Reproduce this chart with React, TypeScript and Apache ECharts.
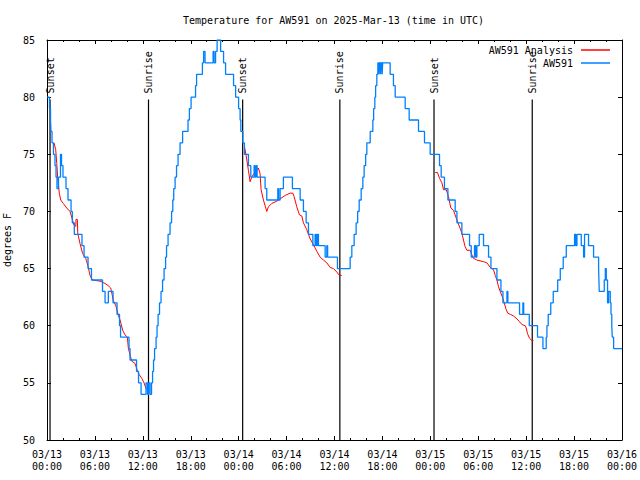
import React, { useEffect, useRef } from "react";
import * as echarts from "echarts";

// Hours since 2025-03-13 00:00 UTC
const blueHours = [
  0.0, 0.31, 0.44, 0.5, 0.63, 0.81, 1.0, 1.13, 1.25, 1.44, 1.69, 1.82, 2.0, 2.38, 2.63, 3.01, 3.17, 3.42,
  4.38, 4.64, 5.14, 5.57, 6.95, 7.27, 7.68, 8.27, 8.77, 9.08, 9.21, 10.27, 10.4, 11.21, 11.46, 11.78,
  12.4, 12.59, 12.72, 12.9, 13.09, 13.22, 13.34, 13.47, 13.66, 13.78, 13.91, 14.09, 14.28, 14.47, 14.66,
  14.85, 14.97, 15.16, 15.41, 15.6, 15.75, 15.87, 16.04, 16.22, 16.41, 16.66, 16.98, 17.66, 17.83, 18.04,
  18.6, 18.73, 19.46, 19.61, 19.79, 20.8, 20.92, 21.11, 21.3, 21.74, 22.11, 22.36, 23.36, 23.62, 23.99,
  24.18, 24.27, 24.52, 24.72, 25.22, 25.52, 25.93, 26.06, 26.18, 26.31, 27.31, 27.52, 28.9, 29.0, 29.19,
  29.6, 30.73, 31.7, 32.11, 32.45, 32.74, 33.29, 33.57, 33.7, 33.83, 33.99, 34.83, 35.04, 35.14, 36.37,
  37.96, 38.17, 38.46, 38.71, 38.9, 39.09, 39.34, 39.55, 39.71, 39.9, 40.05, 40.47, 40.8, 40.9, 41.05,
  41.15, 41.3, 41.43, 41.59, 41.66, 41.78, 41.84, 41.97, 42.03, 42.97, 43.38, 43.6, 44.85, 45.35, 46.52,
  47.27, 47.98, 49.15, 49.36, 49.77, 50.2, 51.11, 51.33, 51.95, 52.91, 53.12, 53.53, 53.68, 53.83, 54.12,
  54.66, 55.29, 55.59, 56.34, 56.84, 57.09, 57.59, 57.71, 59.17, 59.59, 59.69, 60.39, 61.42, 62.1, 62.51,
  62.6, 62.76, 63.08, 63.39, 63.95, 64.27, 64.64, 65.02, 66.06, 66.21, 66.36, 66.9, 67.19, 67.31, 67.81,
  68.44, 69.07, 69.15, 69.78, 69.91, 70.03, 70.19, 70.32, 70.53, 70.62, 70.72, 70.78, 70.95, 72.0,
];
const blueTemps = [
  80, 79, 78, 77, 76, 75, 74, 73, 72, 73, 75, 74, 73, 72, 71, 70, 69, 68,
  67, 66, 65, 64, 63, 62, 63, 62, 61, 60, 59, 58, 57, 56, 55, 54,
  55, 54, 55, 54, 55, 56, 57, 58, 59, 60, 61, 62, 63, 64, 65,
  66, 67, 68, 69, 70, 71, 72, 73, 74, 75, 76, 77, 78, 79, 80,
  81, 82, 83, 84, 83, 84, 83, 84, 85, 84, 83, 82, 81, 80, 79,
  78, 77, 76, 75, 74, 73, 74, 73, 74, 73, 72, 71, 72, 71, 72,
  73, 72, 71, 70, 69, 68, 67, 68, 67, 68, 67, 66, 67, 66, 65,
  66, 67, 68, 69, 70, 71, 72, 73, 74, 75, 76, 77, 78, 79, 80,
  81, 82, 83, 82, 83, 82, 83, 82, 83, 82, 81, 80, 79, 78, 77,
  76, 75, 74, 73, 72, 71, 70, 69, 68, 67, 66, 67, 66, 67, 68,
  67, 66, 65, 64, 63, 62, 63, 62, 61, 62, 61, 60, 59, 58, 59,
  60, 61, 62, 63, 64, 65, 66, 67, 68, 67, 68, 67, 66, 68, 67,
  66, 65, 63, 64, 65, 64, 62, 63, 62, 61, 60, 59, 58, 58,
];

// Analysis (red), null separates the three nights
const redHours = [
  0.88, 1.09, 1.22, 1.34, 1.54, 1.72, 2.04, 2.47, 2.88, 3.09, 3.38, 3.61, 3.63, 3.8, 3.85, 4.13, 4.47,
  4.85, 5.14, 5.39, 5.68, 6.64, 7.27, 7.68, 7.98, 8.31, 8.64, 8.93, 9.15, 9.48, 9.77, 10.06, 10.19,
  10.61, 11.02, 11.31, 11.56, 11.86, 12.15, 12.4, 12.57, 12.74,
  18.0,
  24.72, 24.93, 25.22, 25.43, 25.64, 25.81, 26.27, 26.47, 26.68, 26.81, 27.1, 27.52, 27.72, 28.15,
  28.78, 29.19, 29.82, 30.44, 30.78, 30.94, 31.28, 31.61, 31.91, 32.11, 32.53, 32.95, 33.36, 33.79,
  34.2, 34.61, 35.04, 35.45, 35.87, 36.29, 36.62, 36.92,
  42.0,
  48.61, 48.9, 49.15, 49.45, 49.65, 49.99, 50.27, 50.57, 50.9, 51.33, 51.74, 51.95, 52.15, 52.36,
  52.58, 52.99, 53.2, 53.4, 53.83, 54.66, 55.09, 55.5, 55.91, 56.13, 56.34, 56.54, 56.75, 57.09,
  57.25, 57.5, 57.71, 58.0, 58.42, 58.84, 59.17, 59.47, 59.88, 60.01, 60.17, 60.42, 60.72, 60.92,
];
const redTemps: (number | null)[] = [
  76.0, 75.4, 74.2, 73.0, 71.6, 71.0, 70.7, 70.3, 70.0, 69.5, 68.8, 68.7, 69.3, 69.3, 68.1, 67.2, 66.3,
  65.9, 65.2, 64.4, 64.0, 63.9, 63.7, 63.5, 63.3, 62.2, 61.7, 60.9, 60.5, 59.6, 59.2, 59.0, 58.0,
  56.9, 56.7, 56.1, 55.7, 55.4, 55.0, 54.5, 54.4, 54.6,
  null,
  75.7, 74.9, 73.6, 72.6, 73.0, 73.2, 73.6, 73.8, 73.3, 71.9, 71.0, 70.0, 70.4, 70.7,
  70.9, 71.1, 71.4, 71.6, 71.6, 71.3, 70.4, 69.7, 69.6, 69.0, 68.4, 67.6, 67.1, 66.5,
  66.0, 65.75, 65.5, 65.1, 65.0, 64.7, 64.4, 64.4,
  null,
  73.4, 73.4, 72.9, 72.5, 71.9, 71.9, 71.3, 70.3, 70.1, 69.25, 68.5, 68.1, 67.5, 66.9,
  66.6, 66.6, 66.2, 65.9, 65.75, 65.6, 65.5, 65.1, 64.9, 64.4, 64.0, 63.4, 63.0, 62.4,
  62.0, 61.4, 61.1, 61.0, 60.85, 60.6, 60.35, 60.1, 60.0, 59.8, 59.3, 58.9, 58.7, 58.7,
];

const sunHours = [0.38, 12.71, 24.5, 36.67, 48.46, 60.76];
const sunLabels = ["Sunset", "Sunrise", "Sunset", "Sunrise", "Sunset", "Sunrise"];
const sunLineTop = 79.8;

const xTickLabels = [
  "03/13\n00:00", "03/13\n06:00", "03/13\n12:00", "03/13\n18:00",
  "03/14\n00:00", "03/14\n06:00", "03/14\n12:00", "03/14\n18:00",
  "03/15\n00:00", "03/15\n06:00", "03/15\n12:00", "03/15\n18:00",
  "03/16\n00:00",
];

const FONT = "DejaVu Sans Mono";

export default function App() {
  const ref = useRef<HTMLDivElement>(null);
  useEffect(() => {
    if (!ref.current) return;
    const chart = echarts.init(ref.current, undefined, { renderer: "svg" });

    const xCommon = {
      type: "value",
      min: 0,
      max: 72,
      interval: 6,
      splitLine: { show: false },
      axisLine: { show: true, onZero: false, lineStyle: { color: "#000", width: 1 } },
      axisTick: { show: true, inside: true, length: 4, lineStyle: { color: "#000" } },
      minorTick: { show: true, splitNumber: 3, length: 2, lineStyle: { color: "#000" } },
    };
    const yCommon = {
      type: "value",
      min: 50,
      max: 85,
      interval: 5,
      splitLine: { show: false },
      axisLine: { show: true, onZero: false, lineStyle: { color: "#000", width: 1 } },
      axisTick: { show: true, inside: true, length: 4, lineStyle: { color: "#000" } },
    };

    chart.setOption({
      animation: false,
      backgroundColor: "#fff",
      title: {
        text: "Temperature for AW591 on 2025-Mar-13 (time in UTC)",
        left: 183,
        top: 14,
        padding: 0,
        textStyle: { fontFamily: FONT, fontSize: 10, fontWeight: "normal", color: "#000", lineHeight: 12 },
      },
      legend: [
        {
          data: ["AW591 Analysis"],
          right: 30,
          top: 44,
          padding: 0,
          align: "right",
          icon: "rect",
          itemWidth: 29,
          itemHeight: 1.5,
          textStyle: { fontFamily: FONT, fontSize: 10, color: "#000", lineHeight: 12, padding: [0, 3, 0, 0] },
        },
        {
          data: ["AW591"],
          right: 30,
          top: 57,
          padding: 0,
          align: "right",
          icon: "rect",
          itemWidth: 29,
          itemHeight: 1.5,
          textStyle: { fontFamily: FONT, fontSize: 10, color: "#000", lineHeight: 12, padding: [0, 3, 0, 0] },
        },
      ],
      grid: { left: 47, right: 18, top: 40, bottom: 40, containLabel: false, outerBoundsMode: "none" },
      xAxis: [
        {
          ...xCommon,
          position: "bottom",
          axisLabel: {
            show: true,
            margin: 8,
            fontFamily: FONT,
            fontSize: 10,
            lineHeight: 12,
            color: "#000",
            formatter: (v: number) => xTickLabels[Math.round(v / 6)] ?? "",
          },
        },
        { ...xCommon, position: "top", axisLabel: { show: false } },
      ],
      yAxis: [
        {
          ...yCommon,
          position: "left",
          name: "degrees F",
          nameLocation: "middle",
          nameRotate: 90,
          nameGap: 31,
          nameTextStyle: { fontFamily: FONT, fontSize: 10, color: "#000" },
          axisLabel: { show: true, margin: 12, fontFamily: FONT, fontSize: 10, color: "#000" },
        },
        { ...yCommon, position: "right", axisLabel: { show: false } },
      ],
      series: [
        {
          type: "custom",
          name: "sun",
          silent: true,
          z: 1,
          data: sunHours.map((h) => [h, sunLineTop]),
          renderItem: (params: any, api: any) => {
            const x = api.value(0);
            const top = api.value(1);
            const p0 = api.coord([x, 50]);
            const p1 = api.coord([x, top]);
            return {
              type: "group",
              children: [
                {
                  type: "line",
                  shape: { x1: p0[0], y1: p0[1], x2: p1[0], y2: p1[1] },
                  style: { stroke: "#000", lineWidth: 1.2 },
                },
                {
                  type: "text",
                  x: p1[0],
                  y: p1[1] - 6,
                  rotation: Math.PI / 2,
                  style: {
                    text: sunLabels[params.dataIndex],
                    fill: "#000",
                    font: `10px "${FONT}"`,
                    textAlign: "left",
                    textVerticalAlign: "middle",
                  },
                },
              ],
            };
          },
        },
        {
          type: "line",
          name: "AW591 Analysis",
          z: 2,
          symbol: "none",
          connectNulls: false,
          color: "#ff0000",
          lineStyle: { color: "#ff0000", width: 1 },
          data: redHours.map((h, i) => [h, redTemps[i]]),
        },
        {
          type: "line",
          name: "AW591",
          z: 3,
          symbol: "none",
          step: "end",
          color: "#0080ff",
          lineStyle: { color: "#0080ff", width: 1.3 },
          data: blueHours.map((h, i) => [h, blueTemps[i]]),
        },
      ],
    });
    return () => chart.dispose();
  }, []);

  return <div ref={ref} style={{ position: "absolute", left: 0, top: 0, width: 640, height: 480 }} />;
}
